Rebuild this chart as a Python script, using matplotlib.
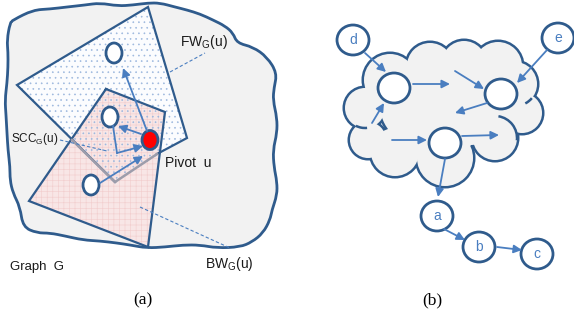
import numpy as np
import matplotlib.pyplot as plt
from matplotlib.patches import Polygon, Ellipse, Circle, PathPatch, Arc
from matplotlib.path import Path

plt.rcParams['font.family'] = ['Liberation Sans', 'DejaVu Sans']
plt.rcParams['mathtext.fontset'] = 'custom'
plt.rcParams['mathtext.rm'] = 'Liberation Sans'
plt.rcParams['hatch.linewidth'] = 0.45

DARK = '#2f5b8c'
BLUE = '#4a7ec0'
GREY_FILL = '#f2f2f2'

# (a) outline of graph G, in pixel coordinates
blob_pts = [(13, 20), (33, 10), (50, 9), (67, 7), (85, 5), (100, 3), (118, 6), (133, 5),
            (148, 3), (160, 3), (175, 7), (187, 10), (200, 14), (213, 20), (225, 26),
            (233, 33), (237, 43), (253, 47), (267, 57), (277, 73), (274, 88), (273, 100),
            (277, 118), (277, 133), (273, 150), (274, 167), (277, 182), (277, 195),
            (272, 210), (270, 220), (263, 233), (252, 242), (240, 247), (217, 248),
            (200, 245), (183, 245), (165, 247), (147, 248), (130, 245), (117, 243),
            (100, 241), (83, 240), (65, 236), (50, 233), (37, 233), (23, 227), (20, 207),
            (13, 193), (10, 180), (10, 167), (8, 150), (7, 133), (6, 115), (5, 100),
            (7, 83), (8, 67), (8, 52), (7, 40), (10, 23)]

fw_poly = [(17, 85), (148, 7), (187, 138), (115, 182)]
bw_poly = [(106, 89), (165, 112), (148, 247), (29, 201)]
scc_edge = [(72, 140), (115, 182), (157, 154)]

left_nodes = [(114, 53), (110, 117), (91, 185)]
pivot = (150, 140)

left_arrows = [((147, 131), (123, 68)),
               ((141, 134), (118, 126)),
               ((117, 153), (143, 146)),
               ((100, 183), (143, 156))]
left_path = [(113, 126), (117, 153)]

leaders = [((170, 72), (205, 53)),
           ((60, 140), (107, 151)),
           ((140, 207), (230, 248))]

# (b) cloud bumps (centre x, centre y, radius) and nodes
cloud_bumps = [(365, 108, 20), (390, 80, 26), (430, 66, 23), (464, 63, 22),
               (498, 66, 24), (515, 84, 22), (522, 113, 20), (495, 138, 22),
               (445, 158, 28), (395, 152, 24), (368, 140, 18),
               (420, 105, 40), (470, 105, 40), (445, 130, 30), (415, 135, 22)]
cloud_inner_arcs = [(365, 108, 20, 84, 117), (495, 138, 22, -81, 6),
                    (515, 84, 22, 40, 62)]

node_xy = {'d': (353, 40), 'e': (558, 38), 'n1': (394, 88), 'n2': (501, 94),
           'n3': (445, 143), 'a': (437, 216), 'b': (479, 247), 'c': (537, 254)}
node_text = ['d', 'e', 'a', 'b', 'c']

right_arrows = [((365, 53), (386, 72)), ((413, 84), (450, 84)),
                ((455, 71), (484, 89)), ((547, 50), (517, 83)),
                ((487, 103), (455, 113)), ((372, 123), (384, 103)),
                ((392, 140), (427, 140)), ((462, 136), (499, 135)),
                ((445, 159), (438, 197)), ((444, 229), (465, 240)),
                ((497, 247), (522, 250))]


def smooth_closed(pts):
    # quadratic bezier through midpoints, vertices act as control points
    pts = np.asarray(pts, float)
    mids = (pts + np.roll(pts, -1, axis=0)) / 2
    verts = [mids[-1]]
    codes = [Path.MOVETO]
    for p, m in zip(pts, mids):
        verts += [p, m]
        codes += [Path.CURVE3, Path.CURVE3]
    return Path(verts, codes)


def arrow(ax, a, b, lw=1.3):
    ax.annotate('', xy=b, xytext=a,
                arrowprops=dict(arrowstyle='-|>', color=BLUE, lw=lw,
                                mutation_scale=12, shrinkA=0, shrinkB=0))


fig = plt.figure(figsize=(5.74, 3.24), dpi=100)
ax = fig.add_axes([0, 0, 1, 1])
ax.set_xlim(0, 574)
ax.set_ylim(324, 0)
ax.axis('off')

# --- panel (a)
ax.add_patch(PathPatch(smooth_closed(blob_pts), facecolor=GREY_FILL,
                       edgecolor=DARK, lw=2.0, joinstyle='round'))
ax.add_patch(Polygon(fw_poly, closed=True, facecolor='#fbfcfe', edgecolor='none'))
ax.add_patch(Polygon(bw_poly, closed=True, facecolor='#f8e6e6', edgecolor='none'))
ax.add_patch(Polygon(bw_poly, closed=True, fill=False, edgecolor='#f2cfcf',
                     lw=0, hatch='+++'))
ax.add_patch(Polygon(fw_poly, closed=True, fill=False, edgecolor='#9db8de',
                     lw=0, hatch='...'))

fx = [p[0] for p in fw_poly]
fy = [p[1] for p in fw_poly]
ax.plot([fx[3], fx[0], fx[1], fx[2], scc_edge[2][0]],
        [fy[3], fy[0], fy[1], fy[2], scc_edge[2][1]], color=DARK, lw=1.6,
        solid_joinstyle='miter')
ax.plot([p[0] for p in bw_poly] + [bw_poly[0][0]],
        [p[1] for p in bw_poly] + [bw_poly[0][1]], color=DARK, lw=1.6,
        solid_joinstyle='miter')
ax.plot([p[0] for p in scc_edge], [p[1] for p in scc_edge],
        color='#9d9dab', lw=1.8)

for a, b in leaders:
    ax.plot([a[0], b[0]], [a[1], b[1]], color=BLUE, lw=0.8, ls=(0, (3, 2)))

ax.plot([p[0] for p in left_path], [p[1] for p in left_path], color=BLUE, lw=1.3)
for a, b in left_arrows:
    arrow(ax, a, b)

for x, y in left_nodes:
    ax.add_patch(Ellipse((x, y), 16, 20, facecolor='white', edgecolor=DARK, lw=2.0))
ax.add_patch(Ellipse(pivot, 16, 19, facecolor='#ff0000', edgecolor=DARK, lw=2.0))

ax.text(180, 42, r'FW$_\mathregular{G}$(u)', fontsize=10, va='center', color='#1a1a1a')
ax.text(11, 139, r'SCC$_\mathregular{G}$(u)', fontsize=8.5, va='center', color='#1a1a1a')
ax.text(165, 163, 'Pivot  u', fontsize=10, va='center', color='#1a1a1a')
ax.text(10, 267, 'Graph  G', fontsize=9.5, va='center', color='#1a1a1a')
ax.text(205, 264, r'BW$_\mathregular{G}$(u)', fontsize=10, va='center', color='#1a1a1a')

# --- panel (b): cloud = union of bumps
for cx, cy, r in cloud_bumps:
    ax.add_patch(Circle((cx, cy), r, facecolor='none', edgecolor=DARK, lw=3.6))
for cx, cy, r in cloud_bumps:
    ax.add_patch(Circle((cx, cy), r, facecolor=GREY_FILL, edgecolor='none'))
for cx, cy, r, t1, t2 in cloud_inner_arcs:
    ax.add_patch(Arc((cx, cy), 2 * r, 2 * r, theta1=t1, theta2=t2,
                     edgecolor=DARK, lw=1.8))

for a, b in right_arrows:
    arrow(ax, a, b)

for name, (x, y) in node_xy.items():
    ax.add_patch(Ellipse((x, y), 32, 30, facecolor='white', edgecolor=DARK, lw=2.0))
    if name in node_text:
        ax.text(x, y, name, fontsize=10, ha='center', va='center', color=BLUE)

ax.text(143, 300, '(a)', fontsize=12.5, ha='center', va='center',
        family='Liberation Serif')
ax.text(432, 300, '(b)', fontsize=12.5, ha='center', va='center',
        family='Liberation Serif')

fig.savefig('out.png', dpi=100)
